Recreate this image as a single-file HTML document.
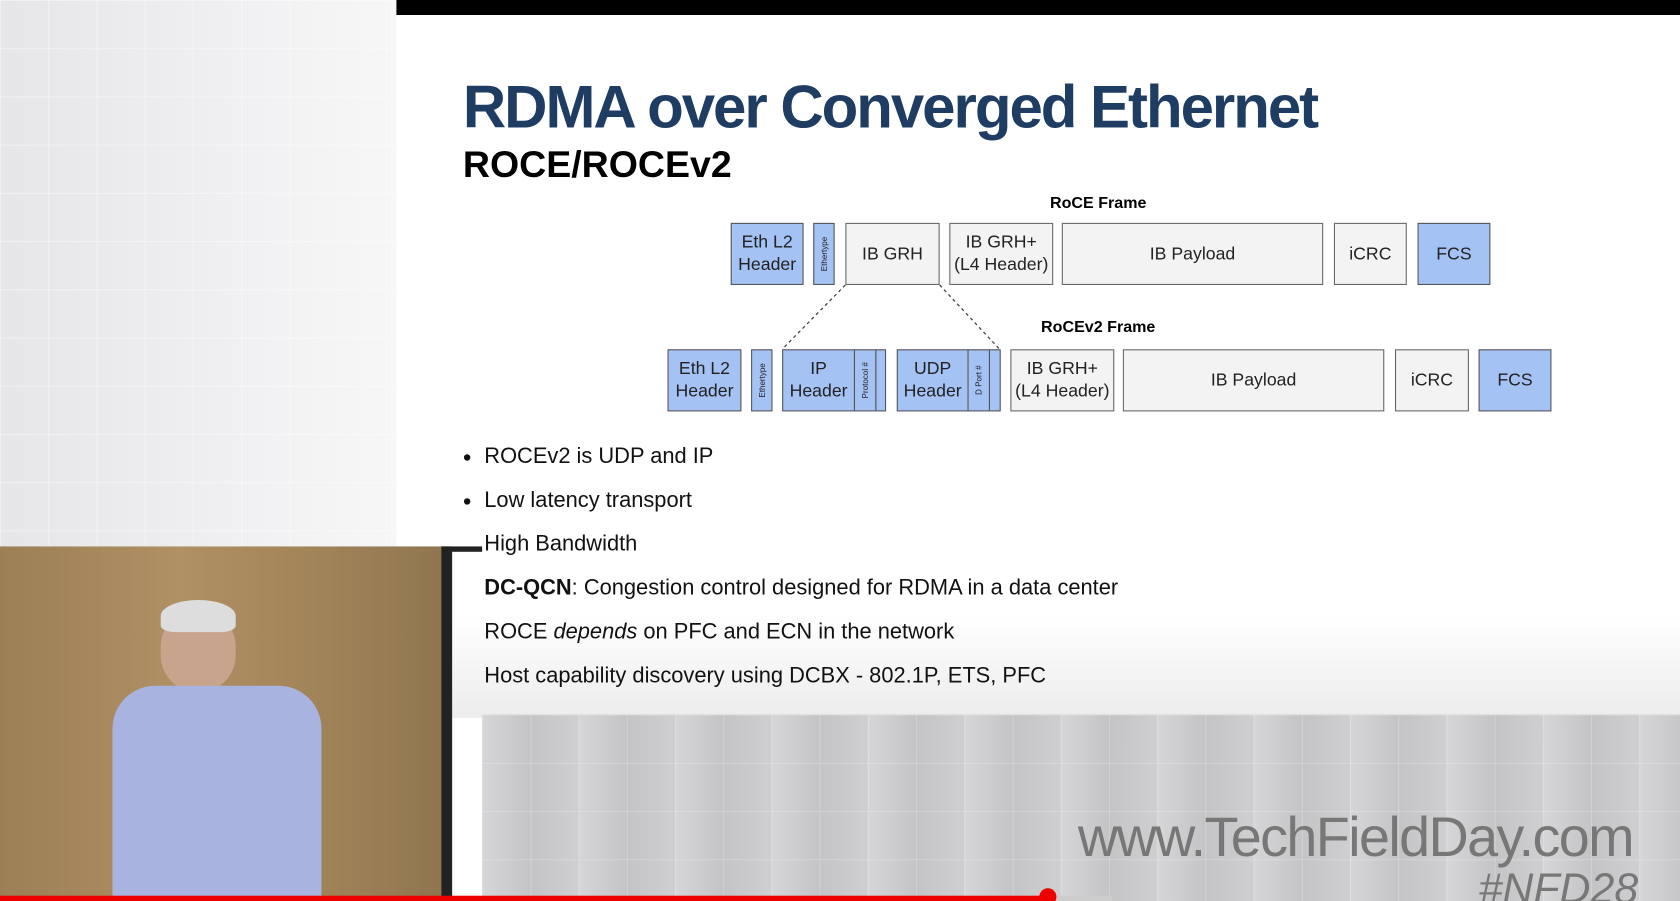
<!DOCTYPE html>
<html><head><meta charset="utf-8"><style>
*{margin:0;padding:0;box-sizing:border-box}
body{width:1680px;height:901px;overflow:hidden;background:#fff;font-family:"Liberation Sans",sans-serif}
#w{position:absolute;left:0;top:0;width:1568px;height:841px;transform:scale(1.07143);transform-origin:0 0;overflow:hidden}
.a{position:absolute}
.b{position:absolute;border:1.5px solid #666;background:#f3f3f3;display:flex;align-items:center;justify-content:center;text-align:center;font-size:16.5px;line-height:21px;color:#222}
.bl{background:#a4c2f4;border-color:#555}
.v{writing-mode:vertical-rl;transform:rotate(180deg);font-size:7.5px;line-height:9px}
.t{position:absolute;left:452px;font-size:20.4px;color:#111;white-space:nowrap}
.dot{position:absolute;left:433px;width:6px;height:6px;border-radius:50%;background:#111}
</style></head><body><div id="w">
<div class="a" style="left:0;top:0;width:370px;height:510px;background:linear-gradient(90deg,#e6e6e8,#f0f0f2 60%,#f7f7f8);"></div>
<div class="a" style="left:0;top:0;width:370px;height:510px;background-image:linear-gradient(#fff6 1px,transparent 1px),linear-gradient(90deg,#fff6 1px,transparent 1px);background-size:45px 45px"></div>
<div class="a" style="left:370px;top:0;width:1198px;height:14px;background:#000"></div>
<div class="a" style="left:432px;top:67px;font-size:56px;font-weight:bold;color:#1f3d63;letter-spacing:-1.9px;white-space:nowrap">RDMA over Converged Ethernet</div>
<div class="a" style="left:432px;top:134px;font-size:35px;font-weight:bold;color:#000;white-space:nowrap">ROCE/ROCEv2</div>
<div class="a" style="left:925px;top:181px;width:200px;text-align:center;font-size:15px;font-weight:bold">RoCE Frame</div>
<div class="a" style="left:925px;top:297px;width:200px;text-align:center;font-size:15px;font-weight:bold">RoCEv2 Frame</div>
<div class="b bl" style="left:682px;top:208px;width:68px;height:58px">Eth L2<br>Header</div>
<div class="b bl" style="left:759px;top:208px;width:20px;height:58px"><span class="v">Ethertype</span></div>
<div class="b" style="left:789px;top:208px;width:88px;height:58px">IB GRH</div>
<div class="b" style="left:886px;top:208px;width:97px;height:58px">IB GRH+<br>(L4 Header)</div>
<div class="b" style="left:991px;top:208px;width:244px;height:58px">IB Payload</div>
<div class="b" style="left:1245px;top:208px;width:68px;height:58px">iCRC</div>
<div class="b bl" style="left:1323px;top:208px;width:68px;height:58px">FCS</div>
<svg class="a" style="left:0;top:0" width="1568" height="841"><line x1="789" y1="266" x2="730" y2="326" stroke="#444" stroke-dasharray="3,3" stroke-width="1.2"/><line x1="877" y1="266" x2="933" y2="326" stroke="#444" stroke-dasharray="3,3" stroke-width="1.2"/></svg>
<div class="b bl" style="left:623px;top:326px;width:69px;height:58px">Eth L2<br>Header</div>
<div class="b bl" style="left:701px;top:326px;width:20px;height:58px"><span class="v">Ethertype</span></div>
<div class="b bl" style="left:730px;top:326px;width:68px;height:58px">IP<br>Header</div>
<div class="b bl" style="left:797px;top:326px;width:21px;height:58px"><span class="v">Protocol #</span></div>
<div class="b bl" style="left:817px;top:326px;width:10px;height:58px"></div>
<div class="b bl" style="left:837px;top:326px;width:67px;height:58px">UDP<br>Header</div>
<div class="b bl" style="left:903px;top:326px;width:21px;height:58px"><span class="v">D Port #</span></div>
<div class="b bl" style="left:923px;top:326px;width:11px;height:58px"></div>
<div class="b" style="left:943px;top:326px;width:97px;height:58px">IB GRH+<br>(L4 Header)</div>
<div class="b" style="left:1048px;top:326px;width:244px;height:58px">IB Payload</div>
<div class="b" style="left:1302px;top:326px;width:69px;height:58px">iCRC</div>
<div class="b bl" style="left:1380px;top:326px;width:68px;height:58px">FCS</div>
<div class="a" style="left:422px;top:510px;width:1146px;height:160px;background:linear-gradient(#fff,#fff 40%,#ececec)"></div>
<div class="dot" style="top:424px"></div><div class="t" style="top:415px">ROCEv2 is UDP and IP</div>
<div class="dot" style="top:465px"></div><div class="t" style="top:456px">Low latency transport</div>
<div class="t" style="top:497px">High Bandwidth</div>
<div class="t" style="top:538px"><b>DC-QCN</b>: Congestion control designed for RDMA in a data center</div>
<div class="t" style="top:579px">ROCE <i>depends</i> on PFC and ECN in the network</div>
<div class="t" style="top:620px">Host capability discovery using DCBX - 802.1P, ETS, PFC</div>
<div class="a" style="left:450px;top:667px;width:1118px;height:174px;background:#c9c9cb;background-image:linear-gradient(90deg,#d6d6d8 0,#c4c4c6 45px,#cfcfd1 90px);background-size:90px 90px"></div>
<div class="a" style="left:450px;top:667px;width:1118px;height:174px;background-image:linear-gradient(#eee5 1px,transparent 1px),linear-gradient(90deg,#eee5 1px,transparent 1px);background-size:45px 45px"></div>
<div class="a" style="left:1006px;top:752px;font-size:52px;color:#777;letter-spacing:-1.5px;white-space:nowrap">www.TechFieldDay.com</div>
<div class="a" style="left:1380px;top:808px;font-size:40px;color:#777;font-style:italic;white-space:nowrap">#NFD28</div>
<div class="a" style="left:0;top:510px;width:418px;height:331px;background:linear-gradient(90deg,#9c7f55,#b09065 40%,#a4865a 65%,#8f7550)"></div>
<div class="a" style="left:412px;top:510px;width:10px;height:331px;background:#222"></div>
<div class="a" style="left:412px;top:510px;width:38px;height:5px;background:#222"></div>
<div class="a" style="left:150px;top:570px;width:70px;height:75px;border-radius:45%;background:#c9a48c"></div>
<div class="a" style="left:150px;top:560px;width:70px;height:30px;border-radius:50% 50% 20% 20%;background:#ddd"></div>
<div class="a" style="left:105px;top:640px;width:195px;height:201px;border-radius:40px 40px 0 0;background:#a9b3e0"></div>
<div class="a" style="left:0;top:836px;width:978px;height:5px;background:#e00"></div>
<div class="a" style="left:978px;top:836px;width:60px;height:5px;background:#ccc"></div>
<div class="a" style="left:970px;top:829px;width:16px;height:16px;border-radius:50%;background:#e00"></div>
</div></body></html>
